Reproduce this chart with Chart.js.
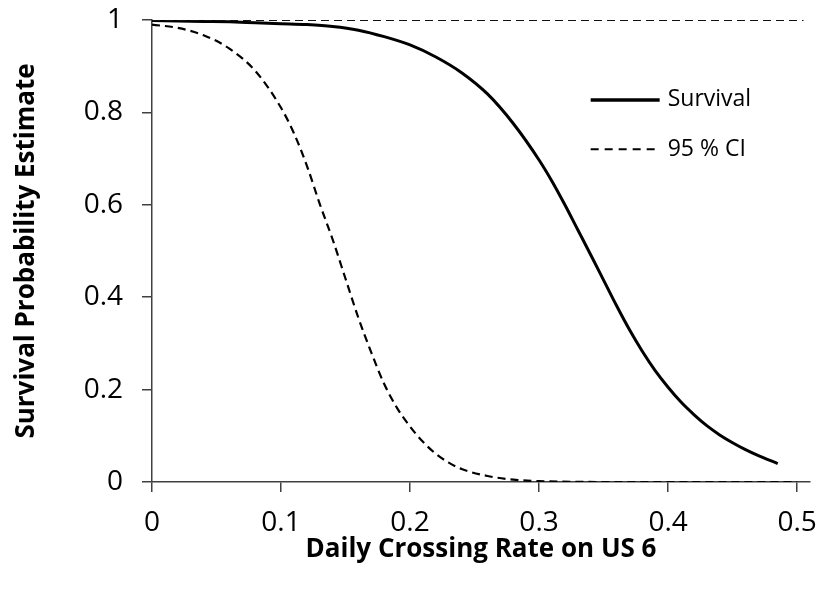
<!DOCTYPE html>
<html>
<head>
<meta charset="utf-8">
<script src="https://cdn.jsdelivr.net/npm/chart.js@4"></script>
<style>
  html, body { margin: 0; padding: 0; background: #fff; }
  #wrap { width: 829px; height: 603px; }
</style>
</head>
<body>
<div id="wrap"><canvas id="c" width="829" height="603"></canvas></div>
<script>
// ---- Data ----
const survivalX = [0, 0.02, 0.04, 0.06, 0.08, 0.10, 0.12, 0.14, 0.16, 0.18, 0.20, 0.22, 0.24, 0.26, 0.28, 0.30, 0.31, 0.32, 0.33, 0.34, 0.35, 0.36, 0.37, 0.38, 0.39, 0.40, 0.41, 0.42, 0.43, 0.44, 0.45, 0.46, 0.47, 0.485];
const survivalY = [0.999, 0.998, 0.997, 0.996, 0.994, 0.992, 0.990, 0.986, 0.978, 0.964, 0.946, 0.920, 0.886, 0.840, 0.776, 0.697, 0.651, 0.600, 0.546, 0.492, 0.437, 0.382, 0.330, 0.283, 0.241, 0.205, 0.173, 0.146, 0.122, 0.102, 0.085, 0.070, 0.057, 0.040];

const lowerX = [0, 0.02, 0.04, 0.06, 0.08, 0.10, 0.11, 0.12, 0.13, 0.14, 0.15, 0.16, 0.17, 0.18, 0.19, 0.20, 0.21, 0.22, 0.23, 0.24, 0.26, 0.28, 0.30, 0.35, 0.40, 0.45, 0.50];
const lowerY = [0.990, 0.983, 0.967, 0.938, 0.890, 0.810, 0.755, 0.685, 0.602, 0.525, 0.440, 0.355, 0.280, 0.212, 0.160, 0.120, 0.087, 0.061, 0.042, 0.028, 0.013, 0.005, 0.002, 0.0, 0.0, 0.0, 0.0];

const upperX = [0, 0.1, 0.2, 0.3, 0.4, 0.505];
const upperY = [1, 1, 1, 1, 1, 1];

const xTicks = [0, 0.1, 0.2, 0.3, 0.4, 0.5];
const yTicks = [0, 0.2, 0.4, 0.6, 0.8, 1];

const legendLabels = ['Survival', '95 % CI'];
const xTitle = 'Daily Crossing Rate on US 6';
const yTitle = 'Survival Probability Estimate';

const pts = (xs, ys) => xs.map((x, i) => ({ x: x, y: ys[i] }));

const FONT = "'Open Sans', 'Noto Sans', sans-serif";

const legendPlugin = {
  id: 'insideLegend',
  afterDraw(chart) {
    const ctx = chart.ctx;
    const xs = chart.scales.x, ys = chart.scales.y;
    const x0 = xs.getPixelForValue(0.34);
    const y1 = ys.getPixelForValue(0.827);
    const y2 = ys.getPixelForValue(0.72);
    ctx.save();
    ctx.strokeStyle = '#000';
    ctx.lineWidth = 3.5;
    ctx.setLineDash([]);
    ctx.beginPath(); ctx.moveTo(x0, y1); ctx.lineTo(x0 + 69, y1); ctx.stroke();
    ctx.lineWidth = 2;
    ctx.setLineDash([8, 6]);
    ctx.beginPath(); ctx.moveTo(x0, y2); ctx.lineTo(x0 + 66, y2); ctx.stroke();
    ctx.setLineDash([]);
    ctx.fillStyle = '#000';
    ctx.font = "23px " + FONT;
    ctx.textBaseline = 'middle';
    ctx.textAlign = 'left';
    ctx.fillText(legendLabels[0], x0 + 77, y1);
    ctx.fillText(legendLabels[1], x0 + 77, y2);
    ctx.restore();
  }
};

new Chart(document.getElementById('c'), {
  type: 'line',
  data: {
    datasets: [
      { label: 'Upper CI', data: pts(upperX, upperY), borderColor: '#111', borderWidth: 2, borderDash: [8, 5], pointRadius: 0, tension: 0 },
      { label: 'Lower CI', data: pts(lowerX, lowerY), borderColor: '#000', borderWidth: 2.2, borderDash: [8, 5], pointRadius: 0, cubicInterpolationMode: 'monotone' },
      { label: 'Survival', data: pts(survivalX, survivalY), borderColor: '#000', borderWidth: 3, pointRadius: 0, cubicInterpolationMode: 'monotone' }
    ]
  },
  options: {
    responsive: false,
    animation: false,
    layout: { padding: { top: 20, right: 19, left: 0, bottom: 0 } },
    plugins: { legend: { display: false }, tooltip: { enabled: false } },
    scales: {
      x: {
        type: 'linear', min: 0, max: 0.51,
        afterFit(s) { s.height = 121; s.paddingLeft = 0; s.paddingRight = 0; },
        afterBuildTicks(s) { s.ticks = xTicks.map(v => ({ value: v })); },
        grid: { display: true, drawOnChartArea: false, drawTicks: true, tickLength: 10, color: '#404040', lineWidth: 1.5 },
        border: { display: true, color: '#404040', width: 1.5 },
        ticks: { color: '#000', font: { family: FONT, size: 28 }, padding: 14, maxRotation: 0, autoSkip: false,
                 callback: v => String(+v.toFixed(1)) },
        title: { display: true, text: xTitle, color: '#000', font: { family: FONT, size: 26, weight: 'bold' }, padding: { top: 0, bottom: 38 } }
      },
      y: {
        type: 'linear', min: 0, max: 1,
        afterFit(s) { s.width = 152; s.paddingTop = 0; s.paddingBottom = 0; },
        afterBuildTicks(s) { s.ticks = yTicks.map(v => ({ value: v })); },
        grid: { display: true, drawOnChartArea: false, drawTicks: true, tickLength: 10, color: '#404040', lineWidth: 1.5 },
        border: { display: true, color: '#404040', width: 1.5 },
        ticks: { color: '#000', font: { family: FONT, size: 28 }, padding: 19,
                 callback: v => String(+v.toFixed(1)) },
        title: { display: true, text: yTitle, color: '#000', font: { family: FONT, size: 26, weight: 'bold' }, padding: { top: 11, bottom: 0 } }
      }
    }
  },
  plugins: [legendPlugin]
});
</script>
</body>
</html>
